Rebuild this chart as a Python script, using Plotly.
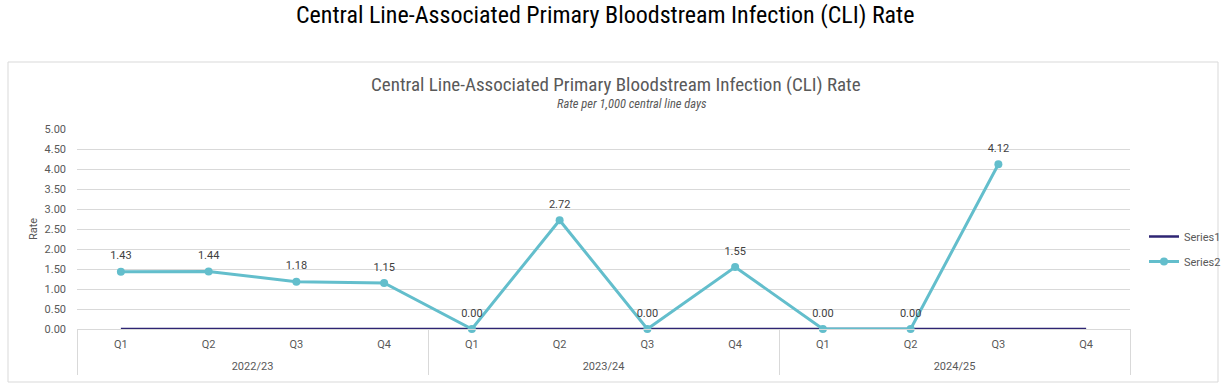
import plotly.graph_objects as go

years = ["2022/23"] * 4 + ["2023/24"] * 4 + ["2024/25"] * 4
quarters = ["Q1", "Q2", "Q3", "Q4"] * 3
series1 = [0, 0, 0, 0, 0, 0, 0, 0, 0, 0, 0, 0]
series2 = [1.43, 1.44, 1.18, 1.15, 0.00, 2.72, 0.00, 1.55, 0.00, 0.00, 4.12, None]
y_ticks = [0, 0.5, 1, 1.5, 2, 2.5, 3, 3.5, 4, 4.5, 5]

# category positions derived from the data
xpos = list(range(len(quarters)))
groups = []
for i, y in enumerate(years):
    if not groups or groups[-1][0] != y:
        groups.append([y, i, i])
    else:
        groups[-1][2] = i
group_labels = [g[0] for g in groups]
group_centers = [(g[1] + g[2]) / 2 for g in groups]
group_edges = [groups[0][1] - 0.5] + [g[2] + 0.5 for g in groups]

fig = go.Figure()
fig.add_trace(go.Scatter(
    x=xpos, y=series1, name="Series1", mode="lines",
    line=dict(color="#2E2573", width=2.5), cliponaxis=False, legendgroup="a",
))
fig.add_trace(go.Scatter(
    x=xpos, y=series2, name="Series2", mode="lines+markers",
    line=dict(color="#63BECC", width=3), marker=dict(size=8, color="#63BECC"),
    cliponaxis=False, legendgroup="b",
))
fig.add_trace(go.Scatter(
    x=xpos, y=series2, mode="markers+text", showlegend=False,
    marker=dict(size=14, color="rgba(0,0,0,0)"),
    text=[("" if v is None else f"{v:.2f}") for v in series2],
    textposition="top center", textfont=dict(size=11, color="#404040", family="Roboto"),
    cliponaxis=False, hoverinfo="skip",
))
# empty trace so the year-group axis is drawn
fig.add_trace(go.Scatter(
    x=group_centers, y=[None] * len(group_centers), xaxis="x2", yaxis="y",
    mode="markers", showlegend=False, hoverinfo="skip",
))

L, R, T, B = 77, 1130, 129, 375   # paper area (plot + category band)
ZERO = 329                         # y pixel of the value axis baseline
W, H = 1229, 384
pw, ph = R - L, B - T

def px(x):
    return (x - L) / pw

def py(y):
    return (B - y) / ph

TITLE_FONT = "Liberation Sans Narrow, Roboto Condensed, Roboto"
xr = [group_edges[0], group_edges[-1]]

fig.update_layout(
    width=W, height=H,
    margin=dict(l=L, r=W - R, t=T, b=H - B, pad=0, autoexpand=False),
    paper_bgcolor="white", plot_bgcolor="white",
    font=dict(family="Roboto", size=11, color="#595959"),
    showlegend=True,
    legend=dict(x=px(1144), y=py(222), xanchor="left", yanchor="top",
                font=dict(size=11, color="#595959"), tracegroupgap=6,
                traceorder="grouped", itemwidth=30, bgcolor="rgba(0,0,0,0)"),
    xaxis=dict(
        range=xr, tickvals=xpos, ticktext=quarters,
        showgrid=False, zeroline=False, showline=True, linecolor="#d9d9d9",
        ticks="", ticklabelstandoff=5,
        tickfont=dict(size=11, color="#595959"),
    ),
    xaxis2=dict(
        overlaying="x", anchor="free", position=0, side="bottom",
        range=xr, tickvals=group_centers, ticktext=group_labels,
        showgrid=False, zeroline=False, showline=False,
        ticks="", ticklabelposition="inside",
        tickfont=dict(size=11, color="#595959"),
        minor=dict(tickvals=group_edges, ticks="inside", ticklen=B - ZERO,
                   tickcolor="#d9d9d9", tickwidth=1, showgrid=False),
    ),
    yaxis=dict(
        domain=[py(ZERO), 1],
        range=[0, 5], tickvals=y_ticks, tickformat=".2f",
        showgrid=True, gridcolor="#d9d9d9", gridwidth=1, zeroline=False,
        showline=False, ticks="", ticklabelstandoff=10,
        tickfont=dict(size=11, color="#595959"),
        title=dict(text="Rate", font=dict(size=11, color="#595959"), standoff=4),
    ),
    shapes=[dict(type="rect", xref="paper", yref="paper",
                 x0=px(8), x1=px(1218), y0=py(382), y1=py(62),
                 line=dict(color="#d9d9d9", width=1), layer="below")],
    annotations=[
        dict(text="Central Line-Associated Primary Bloodstream Infection (CLI) Rate",
             xref="paper", yref="paper", x=px(605), y=py(15), showarrow=False,
             xanchor="center", yanchor="middle",
             font=dict(family=TITLE_FONT, size=24, color="#000000")),
        dict(text="Central Line-Associated Primary Bloodstream Infection (CLI) Rate",
             xref="paper", yref="paper", x=px(616), y=py(84), showarrow=False,
             xanchor="center", yanchor="middle",
             font=dict(family=TITLE_FONT, size=19, color="#595959")),
        dict(text="<i>Rate per 1,000 central line days</i>",
             xref="paper", yref="paper", x=px(632), y=py(103), showarrow=False,
             xanchor="center", yanchor="middle",
             font=dict(family=TITLE_FONT, size=12.5, color="#595959")),
    ],
)

fig.write_html("out.html", config={"displayModeBar": False},
               post_script="document.body.style.margin='0';")
